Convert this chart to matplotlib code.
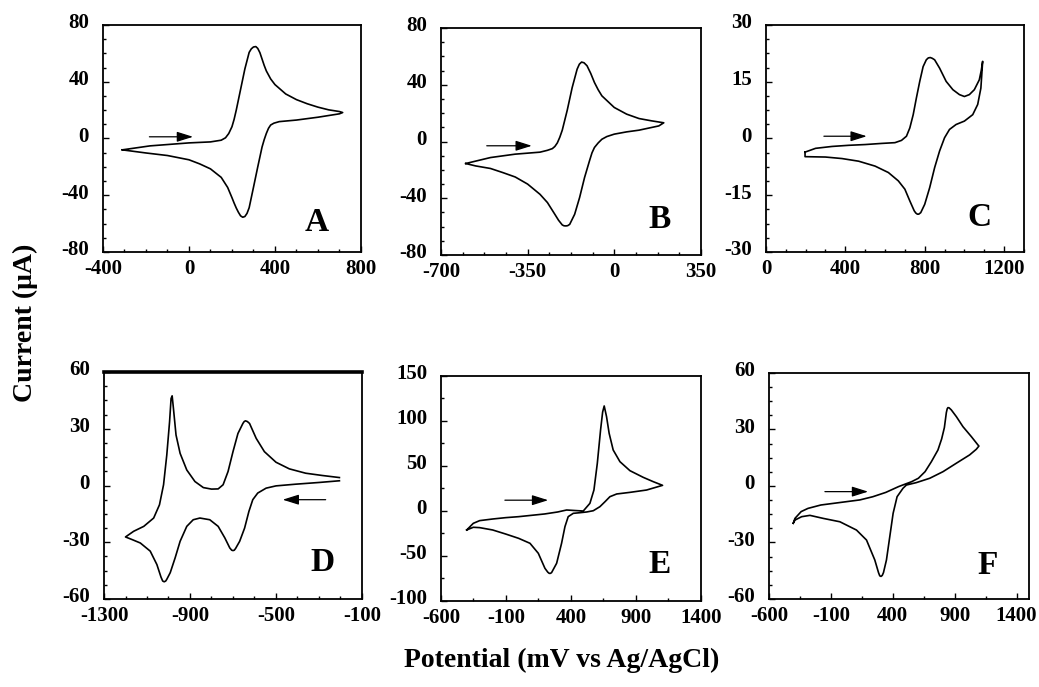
import numpy as np
import matplotlib
matplotlib.use("Agg")
import matplotlib.pyplot as plt
import matplotlib.transforms as mtransforms

# Cyclic voltammograms, potential (mV) and current (uA) in scan order
pot_a = [-310, -181, 0, 100, 150, 170, 185, 200, 210, 220, 240, 260, 280, 290, 300, 311, 320, 330,
         340, 350, 360, 380, 400, 450, 500, 550, 600, 650, 700, 715,
         700, 600, 500, 420, 395, 380, 370, 360, 350, 340, 320, 300, 280, 270, 260, 250, 240, 230,
         220, 210, 200, 180, 150, 100, 50, 0, -100, -200, -310]
cur_a = [-8, -5.2, -3.1, -2.4, -1.2, 0.5, 3.5, 8.3, 13.5, 20, 34.5, 49, 60.7, 63.2, 64.5, 64.8,
         63.5, 60.5, 56, 51.5, 47.6, 42, 38, 31.4, 27.4, 24.5, 22.1, 20.2, 19, 18.3,
         17.4, 15, 13, 11.9, 10.8, 9.5, 7.2, 3.6, -0.8, -6, -20, -34.5, -48.8, -52.8, -55, -55.5,
         -54.5, -52, -49, -45.5, -41.7, -34.5, -27.4, -21.4, -17.9, -15, -12, -10.2, -8]

pot_b = [-600, -500, -400, -300, -270, -250, -240, -230, -220, -210, -190, -170, -150, -141, -132,
         -122, -110, -95, -80, -65, -50, 0, 50, 100, 150, 200,
         180, 100, 50, 0, -30, -50, -65, -80, -90, -100, -120, -140, -160, -180, -188, -195, -203,
         -210, -225, -240, -270, -300, -350, -400, -450, -500, -560, -600]
cur_b = [-15.5, -11.3, -8.9, -7.5, -6.2, -5, -3.5, -1, 3, 8, 22, 38, 51, 54.5, 56,
         55.5, 53.4, 48, 41.6, 36.5, 32.2, 24, 19.3, 16.2, 14.6, 13.2,
         11, 8, 6.8, 5.2, 3.5, 1.6, -1, -4.2, -8, -13.6, -25.4, -39.5, -51.3, -58.4, -59.3, -59.5,
         -59.4, -58.8, -55.5, -51.3, -43, -37.2, -30, -25, -21.9, -19, -17.2, -15.5]

pot_c = [197, 250, 333, 417, 500, 583, 650, 683, 708, 725, 742, 758, 775, 792, 808, 818, 828, 838,
         850, 875, 908, 942, 975, 1000, 1025, 1050, 1075, 1085, 1092,
         1083, 1067, 1042, 1000, 958, 925, 900, 875, 850, 825, 800, 780, 770, 763, 755, 747, 725,
         700, 667, 617, 550, 467, 383, 300, 197, 197]
cur_c = [-3.6, -2.6, -2.1, -1.8, -1.6, -1.3, -1.1, -0.5, 0.6, 2.8, 6.3, 10.7, 15.1, 19, 20.8, 21.3,
         21.4, 21.2, 20.8, 18.6, 15.1, 12.9, 11.6, 11.1, 11.6, 12.9, 15.5, 18, 20.4,
         13.3, 9, 6.3, 4.6, 3.7, 2.4, 0.2, -3.3, -7.7, -13, -17.4, -19.6, -20, -20, -19.7, -19.1,
         -16.5, -13.4, -11.2, -9, -7.3, -6, -5.3, -4.9, -4.8, -3.6]

pot_d = [-205, -300, -408, -500, -546, -585, -608, -626, -646, -669, -688, -694, -700, -706, -715,
         -738, -769, -808, -854, -885, -915, -946, -969, -992, -1008, -1013, -1020, -1027, -1035,
         -1054, -1085, -1131, -1169, -1200,
         -1162, -1115, -1069, -1042, -1023, -1008, -995, -988, -983, -977, -965, -946, -915, -877,
         -838, -800, -769, -746, -723, -700, -677, -654, -648, -642, -633, -623, -592, -554, -500,
         -438, -362, -285, -205]
cur_d = [2.5, 1.6, 0.7, -0.2, -1.4, -4, -7.5, -13.7, -22.5, -29.5, -33.3, -34.2, -34.4, -34.2, -33,
         -27.7, -21.6, -18.1, -17.2, -18.1, -21.6, -29.5, -38.2, -46.1, -49.6, -50.5, -50.9,
         -50.5, -48.4, -41.8, -34.7, -30.4, -28.6, -27.2,
         -24.2, -21.6, -17.2, -10.2, 0.4, 16.1, 33.7, 46, 47.4, 40.7, 26.7, 17, 8.2, 2.1,
         -1.1, -1.9, -1.8, 0.4, 7.4, 17.9, 27.5, 32.8, 33.8, 34.2, 33.8, 32.8, 24.9, 17.9, 12.3,
         8.8, 6.5, 5.3, 4.2]

pot_e = [-402, -351, -302, -202, -102, -2, 98, 198, 298, 367, 456, 495, 546, 577, 603, 628, 644,
         656, 674, 694, 725, 777, 854, 956, 1033, 1105,
         982, 854, 752, 700, 662, 623, 572, 521, 469, 418, 379, 354, 328, 290, 251, 242, 233, 222,
         200, 149, 85, -2, -102, -202, -302, -351, -402]
cur_e = [-21.1, -13.7, -10.7, -8.9, -7.4, -6.3, -4.8, -3.3, -1.1, 1.1, 0.3, 0, 8.5, 23.3, 53, 90,
         110, 116.7, 104.8, 86.3, 67.8, 54.8, 44.8, 37.4, 32.6, 28.5,
         23.3, 20.7, 18.9, 15.9, 10.3, 4.8, 0.3, -1.1, -1.9, -2.6, -6.3, -17.4, -35.9, -58.1,
         -68.5, -69.3, -69.3, -68, -63.7, -47, -35.9, -30.4, -25.6, -21.1, -18.5, -18.1, -21.1]

pot_f = [-404, -390, -340, -285, -181, -76, 29, 134, 239, 344, 448, 553, 607, 661, 712, 765, 795,
         817, 833, 840, 846, 855, 873, 914, 967, 1035, 1088, 1096,
         1075, 1021, 914, 806, 699, 591, 510, 483, 435, 403, 376, 349, 325, 315, 305, 295, 285, 255,
         188, 107, -27, -162, -269, -336, -390, -404]
cur_f = [-19.8, -17.2, -13.6, -11.9, -10.1, -9.2, -8.3, -7.4, -5.7, -3.4, -0.3, 2.3, 4.1, 7.6, 12.9,
         19.1, 25, 31, 39, 41, 41.6, 41.5, 40.4, 36.8, 31.5, 26.2, 21.8, 21.2,
         19.5, 16.5, 12.1, 7.6, 4.1, 1.8, 0.5, -1.2, -5.7, -14.5, -26.9, -39.3, -46, -47.5, -48,
         -47.7, -46, -39.3, -28.7, -23.4, -19, -17.2, -15.6, -16.3, -18.1, -19.8]

letters = ["A", "B", "C", "D", "E", "F"]

plt.rcParams["font.family"] = ["Liberation Serif", "DejaVu Serif"]
plt.rcParams["font.weight"] = "bold"
plt.rcParams["axes.unicode_minus"] = False

fig = plt.figure(figsize=(10.39, 6.87), dpi=100)

# nudge y tick labels up a little so they clear the x labels at the corner
ylab_shift = mtransforms.ScaledTranslation(0, 3 / 72, fig.dpi_scale_trans)

# per panel: axes rect, x range, x major ticks, x minor step, y range, y major step, y minor step,
# arrow (start, end), letter position
panels = [
    dict(rect=[0.0991, 0.6332, 0.2483, 0.3304], pot=pot_a, cur=cur_a,
         xlim=(-400, 800), xmaj=[-400, 0, 400, 800], xmin=100,
         ylim=(-80, 80), ymaj=40, ymin=10,
         arrow=((-184, 1.2), (19, 1.2)), lab=(592, -59.5)),
    dict(rect=[0.4244, 0.6288, 0.2502, 0.3304], pot=pot_b, cur=cur_b,
         xlim=(-700, 350), xmaj=[-700, -350, 0, 350], xmin=87.5,
         ylim=(-80, 80), ymaj=40, ymin=10,
         arrow=((-515, -3), (-333, -3)), lab=(184, -54.8)),
    dict(rect=[0.7372, 0.6332, 0.2483, 0.3304], pot=pot_c, cur=cur_c,
         xlim=(0, 1300), xmaj=[0, 400, 800, 1200], xmin=100,
         ylim=(-30, 30), ymaj=15, ymin=3.75,
         arrow=((292, 0.6), (508, 0.6)), lab=(1075, -20.9)),
    dict(rect=[0.1001, 0.1281, 0.2483, 0.3304], pot=pot_d, cur=cur_d,
         xlim=(-1300, -100), xmaj=[-1300, -900, -500, -100], xmin=100,
         ylim=(-60, 60), ymaj=30, ymin=7.5,
         arrow=((-269, -7.5), (-469, -7.5)), lab=(-285, -40.9)),
    dict(rect=[0.4244, 0.1252, 0.2502, 0.3275], pot=pot_e, cur=cur_e,
         xlim=(-600, 1400), xmaj=[-600, -100, 400, 900, 1400], xmin=250,
         ylim=(-100, 150), ymaj=50, ymin=25,
         arrow=((-108, 12), (225, 12)), lab=(1085, -60)),
    dict(rect=[0.7401, 0.1281, 0.2502, 0.3290], pot=pot_f, cur=cur_f,
         xlim=(-600, 1500), xmaj=[-600, -100, 400, 900, 1400], xmin=250,
         ylim=(-60, 60), ymaj=30, ymin=7.5,
         arrow=((-148, -3), (201, -3)), lab=(1169, -42)),
]

for p, letter in zip(panels, letters):
    ax = fig.add_axes(p["rect"])
    ax.plot(p["pot"], p["cur"], color="black", lw=1.2, solid_joinstyle="round")
    ax.set_xlim(*p["xlim"])
    ax.set_ylim(*p["ylim"])
    ax.set_xticks(p["xmaj"])
    ax.set_xticks(np.arange(p["xlim"][0], p["xlim"][1] + 1, p["xmin"]), minor=True)
    ax.set_yticks(np.arange(p["ylim"][0], p["ylim"][1] + 1, p["ymaj"]))
    ax.set_yticks(np.arange(p["ylim"][0], p["ylim"][1] + 0.1, p["ymin"]), minor=True)
    ax.tick_params(which="both", direction="in", top=False, right=False, width=1.0)
    ax.tick_params(which="major", length=4)
    ax.tick_params(which="minor", length=2.5)
    ax.tick_params(axis="x", which="major", pad=5, labelsize=15)
    ax.tick_params(axis="y", which="major", pad=10, labelsize=15)
    for lbl in ax.get_xticklabels() + ax.get_yticklabels():
        lbl.set_fontweight("bold")
    for lbl in ax.get_yticklabels():
        lbl.set_transform(lbl.get_transform() + ylab_shift)
    for s in ax.spines.values():
        s.set_linewidth(1.3)
    (x0, y0), (x1, y1) = p["arrow"]
    ax.annotate("", xy=(x1, y1), xytext=(x0, y0),
                arrowprops=dict(arrowstyle="-|>,head_length=0.7,head_width=0.22",
                                lw=0.9, color="black", shrinkA=0, shrinkB=0,
                                mutation_scale=14))
    ax.text(p["lab"][0], p["lab"][1], letter, fontsize=24, fontweight="bold",
            ha="center", va="center")
    if letter == "D":
        ax.spines["top"].set_linewidth(2.6)

fig.text(0.024, 0.5306, "Current (\u03bcA)", rotation=90, fontsize=20, fontweight="bold",
         ha="center", va="center")
fig.text(0.5406, 0.039, "Potential (mV vs Ag/AgCl)", fontsize=20, fontweight="bold",
         ha="center", va="center")

fig.savefig("out.png", dpi=100, facecolor="white")
